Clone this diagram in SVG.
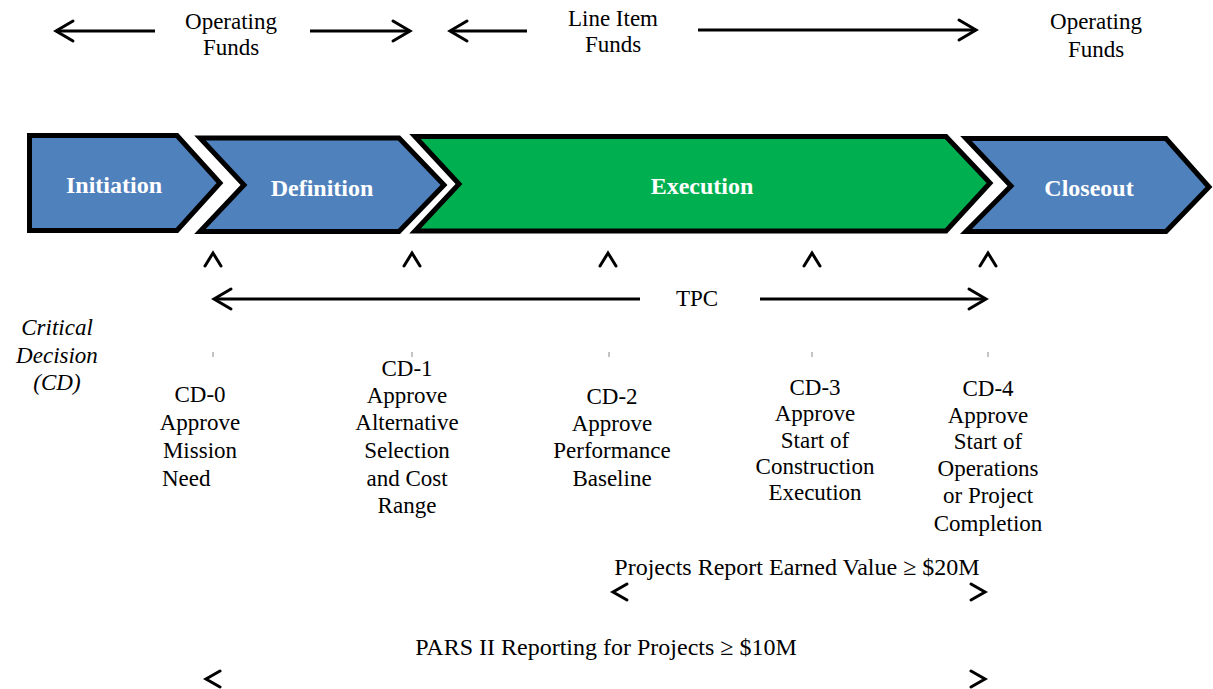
<svg xmlns="http://www.w3.org/2000/svg" width="1213" height="689" viewBox="0 0 1213 689">
<defs>
<style>
.t{font-family:"Liberation Serif","Times New Roman",serif;font-size:23px;fill:#000;text-anchor:middle}
.it{font-style:italic}
.big{font-size:24px}
.lbl{font-family:"Liberation Serif","Times New Roman",serif;font-size:24px;font-weight:bold;fill:#fff;text-anchor:middle}
.blue{fill:#4F81BD;stroke:#000;stroke-width:5;stroke-linejoin:miter}
.green{fill:#00B050;stroke:#000;stroke-width:5;stroke-linejoin:miter}
.ln{stroke:#000;stroke-width:3;fill:none}
.hd{stroke:#000;stroke-width:3;fill:none;stroke-linecap:round;stroke-linejoin:miter}
.tick{stroke:#888;stroke-width:1}
</style>
<marker id="ah" markerUnits="userSpaceOnUse" markerWidth="24" markerHeight="26" viewBox="0 0 24 26" refX="20" refY="13" orient="auto">
<path d="M3,3 L20,13 L3,23" fill="none" stroke="#000" stroke-width="3" stroke-linecap="round"/>
</marker>
</defs>
<rect width="1213" height="689" fill="#fff"/>

<g id="initiation">
<path class="blue" d="M29.5,135.5 L177,135.5 L220,183 L177,230.5 L29.5,230.5 Z"/>
<text class="lbl" x="114" y="193">Initiation</text>
</g>
<g id="definition">
<path class="blue" d="M200,138 L399,138 L444,185 L399,231.5 L200,231.5 L244,185 Z"/>
<text class="lbl" x="322" y="196">Definition</text>
</g>
<g id="execution">
<path class="green" d="M415,136.5 L946,136.5 L990,183 L946,231 L415,231 L459,184 Z"/>
<text class="lbl" x="702" y="194">Execution</text>
</g>
<g id="closeout">
<path class="blue" d="M966,138.5 L1166,138.5 L1209,187 L1166,231.5 L966,231.5 L1011,186 Z"/>
<text class="lbl" x="1089" y="196">Closeout</text>
</g>

<g id="funding-labels">
<text class="t" x="231" y="29">Operating</text>
<text class="t" x="231" y="55">Funds</text>
<text class="t" x="613" y="26">Line Item</text>
<text class="t" x="613" y="52">Funds</text>
<text class="t" x="1096" y="29">Operating</text>
<text class="t" x="1096" y="57">Funds</text>
</g>

<g id="connectors">
<line class="ln" x1="155" y1="31" x2="56" y2="31" marker-end="url(#ah)"/>
<line class="ln" x1="310" y1="31" x2="410" y2="31" marker-end="url(#ah)"/>
<line class="ln" x1="527" y1="31" x2="450" y2="31" marker-end="url(#ah)"/>
<line class="ln" x1="698" y1="30" x2="976" y2="30" marker-end="url(#ah)"/>
<line class="ln" x1="640" y1="299" x2="214" y2="299" marker-end="url(#ah)"/>
<line class="ln" x1="760" y1="299" x2="986" y2="299" marker-end="url(#ah)"/>
<polyline class="hd" points="205,266 213,253 221,266"/>
<polyline class="hd" points="404,266 412,253 420,266"/>
<polyline class="hd" points="600,266 608,253 616,266"/>
<polyline class="hd" points="804,266 812,253 820,266"/>
<polyline class="hd" points="980,266 988,253 996,266"/>
<line class="tick" x1="213" y1="352" x2="213" y2="357"/>
<line class="tick" x1="412" y1="352" x2="412" y2="357"/>
<line class="tick" x1="609" y1="352" x2="609" y2="357"/>
<line class="tick" x1="812" y1="352" x2="812" y2="357"/>
<line class="tick" x1="988" y1="352" x2="988" y2="357"/>
<polyline class="hd" points="627,584 613,592 627,600"/>
<polyline class="hd" points="971,584 985,592 971,600"/>
<polyline class="hd" points="220,671 206,679 220,687"/>
<polyline class="hd" points="971,671 985,679 971,687"/>
</g>

<g id="cd-label">
<text class="t it" x="57" y="335">Critical</text>
<text class="t it" x="57" y="363">Decision</text>
<text class="t it" x="57" y="390">(CD)</text>
</g>
<text class="t" x="697" y="306">TPC</text>

<g id="cd0">
<text class="t" x="200" y="402">CD-0</text>
<text class="t" x="200" y="430">Approve</text>
<text class="t" x="200" y="458">Mission</text>
<text class="t" x="162" y="486" style="text-anchor:start">Need</text>
</g>
<g id="cd1">
<text class="t" x="407" y="376">CD-1</text>
<text class="t" x="407" y="403">Approve</text>
<text class="t" x="407" y="430">Alternative</text>
<text class="t" x="407" y="458">Selection</text>
<text class="t" x="407" y="486">and Cost</text>
<text class="t" x="407" y="513">Range</text>
</g>
<g id="cd2">
<text class="t" x="612" y="404">CD-2</text>
<text class="t" x="612" y="431">Approve</text>
<text class="t" x="612" y="458">Performance</text>
<text class="t" x="612" y="486">Baseline</text>
</g>
<g id="cd3">
<text class="t" x="815" y="395">CD-3</text>
<text class="t" x="815" y="421">Approve</text>
<text class="t" x="815" y="448">Start of</text>
<text class="t" x="815" y="474">Construction</text>
<text class="t" x="815" y="500">Execution</text>
</g>
<g id="cd4">
<text class="t" x="988" y="396">CD-4</text>
<text class="t" x="988" y="423">Approve</text>
<text class="t" x="988" y="449">Start of</text>
<text class="t" x="988" y="476">Operations</text>
<text class="t" x="988" y="503">or Project</text>
<text class="t" x="988" y="531">Completion</text>
</g>

<g id="reporting">
<text class="t big" x="797" y="575">Projects Report Earned Value ≥ $20M</text>
<text class="t big" x="606" y="655">PARS II Reporting for Projects ≥ $10M</text>
</g>
</svg>
